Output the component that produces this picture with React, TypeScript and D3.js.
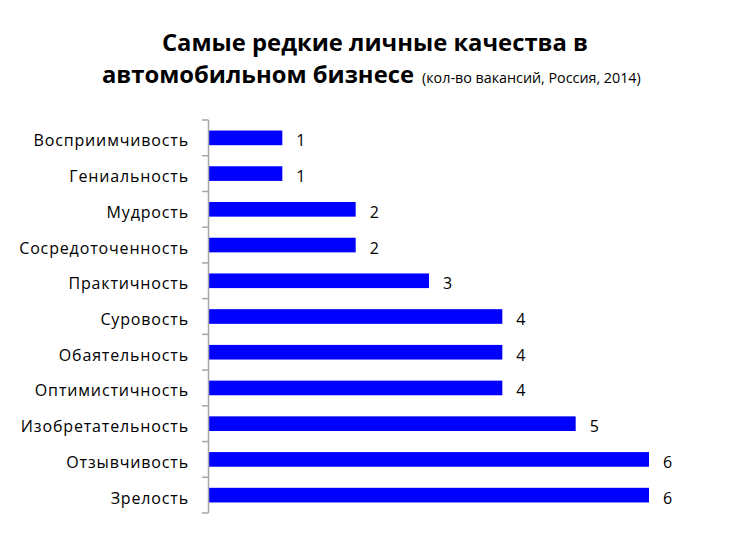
import { useEffect } from 'react';
import * as d3 from 'd3';

const categories = [
  'Восприимчивость',
  'Гениальность',
  'Мудрость',
  'Сосредоточенность',
  'Практичность',
  'Суровость',
  'Обаятельность',
  'Оптимистичность',
  'Изобретательность',
  'Отзывчивость',
  'Зрелость',
];
const values = [1, 1, 2, 2, 3, 4, 4, 4, 5, 6, 6];

const titleLine1 = 'Самые редкие личные качества в';
const titleLine2 = 'автомобильном бизнесе';
const subtitle = '(кол-во вакансий, Россия, 2014)';

const W = 750;
const H = 541;
const font = '"Open Sans", "Noto Sans", sans-serif';

export default function App() {
  useEffect(() => {
    document.body.style.margin = '0';
  }, []);

  const x = d3.scaleLinear().domain([0, 6]).range([209, 649]);
  const y = d3.scaleBand<string>()
    .domain(categories)
    .range([120, 513])
    .paddingInner(0.59)
    .paddingOuter(0.295);

  const step = y.step();
  const axisX = 208.5;
  const tickYs = d3.range(categories.length + 1).map(i => 120 + i * step);
  // text sits a little below the bar centre, like the original
  const baseline = (c: string) => y(c)! + y.bandwidth() / 2 + 8.5;

  return (
    <svg width={W} height={H} viewBox={`0 0 ${W} ${H}`} style={{ display: 'block', background: '#fff' }}>
      {/* Title */}
      <text x={375} y={51} textAnchor="middle" fontFamily={font} fontWeight={700} fontSize={23.8} fill="#000">
        {titleLine1}
      </text>
      <text y={83} fontFamily={font} fill="#000">
        <tspan x={102} fontWeight={700} fontSize={23.8}>{titleLine2}</tspan>
        <tspan dx={8} fontSize={14.3}>{subtitle}</tspan>
      </text>

      {/* Bars */}
      {categories.map((c, i) => (
        <rect
          key={c}
          x={x(0)}
          y={y(c)!}
          width={x(values[i]) - x(0)}
          height={y.bandwidth()}
          fill="#0000FF"
        />
      ))}

      {/* Axis */}
      <line x1={axisX} x2={axisX} y1={120} y2={513} stroke="#a6a6a6" strokeWidth={1.5} />
      {tickYs.map((ty, i) => (
        <line key={i} x1={202} x2={axisX} y1={ty} y2={ty} stroke="#a6a6a6" strokeWidth={1.5} />
      ))}

      {/* Category labels */}
      {categories.map(c => (
        <text
          key={c}
          x={189}
          y={baseline(c)}
          textAnchor="end"
          fontFamily={font}
          fontSize={16}
          letterSpacing={0.85}
          fill="#000"
        >
          {c}
        </text>
      ))}

      {/* Value labels */}
      {categories.map((c, i) => (
        <text
          key={c}
          x={x(values[i]) + 14}
          y={baseline(c)}
          fontFamily={font}
          fontSize={16}
          fill="#000"
        >
          {values[i]}
        </text>
      ))}
    </svg>
  );
}
